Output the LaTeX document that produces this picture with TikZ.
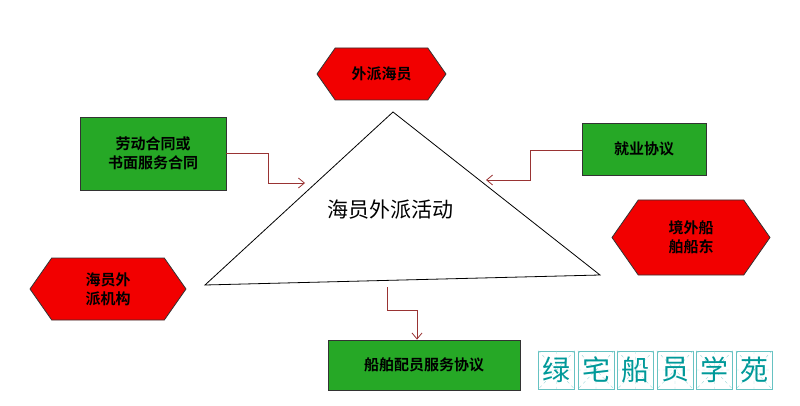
\documentclass[tikz,border=0pt]{standalone}
\usepackage{fontspec}
\setmainfont{Noto Sans CJK SC}[BoldFont={Noto Sans CJK SC Bold}]
\usepackage{tikz}
\usetikzlibrary{arrows.meta,shapes.symbols}
\tikzset{>={Straight Barb[length=6,width=10]}}
\colorlet{boxgreen}{green!60!black!85!white}
\colorlet{hexred}{red!95!black}
\colorlet{arrowred}{red!50!black!80!white}
\colorlet{inkteal}{teal!80!cyan}

\begin{document}
\begin{tikzpicture}[x=1pt,y=-1pt,
    greenbox/.style={draw=black!80,fill=boxgreen,thick,align=center,font=\fontsize{15}{19}\selectfont\bfseries,inner sep=0pt},
    hexbox/.style={draw=black!80,fill=hexred,thick,align=center,signal,signal to=east and west,signal pointer angle=110,font=\fontsize{15}{19}\selectfont\bfseries,inner sep=0pt},
    link/.style={arrowred,thick,->},
    stampbox/.style={draw=inkteal!60,minimum width=36,minimum height=38,inner sep=0pt}]
        \useasboundingbox (0,0) rectangle (800,406);

        % TRIANGLE
        \coordinate (A) at (393,112);
        \coordinate (L) at (205,285);
        \coordinate (R) at (600,275);
        \draw[thick] (A) -- (R) -- (L) -- cycle;
        \node[font=\fontsize{21}{21}\selectfont] (act) at (390,210) {海员外派活动};

        % BOXES
        \node[hexbox,minimum width=129,minimum height=52] (crew) at (381.5,74) {外派海员};
        \node[hexbox,minimum width=158,minimum height=75] (owner) at (691,237.5) {境外船\\舶船东};
        \node[hexbox,minimum width=156,minimum height=62] (agency) at (108,289) {海员外\\派机构};
        \node[greenbox,minimum width=146,minimum height=73] (labor) at (153,153.5) {劳动合同或\\书面服务合同};
        \node[greenbox,minimum width=124,minimum height=52] (job) at (644,149) {就业协议};
        \node[greenbox,minimum width=192,minimum height=50] (manning) at (424,365) {船舶配员服务协议};

        % ARROWS
        \coordinate (a1) at (305,183);
        \coordinate (a2) at (486,180);
        \coordinate (a3) at (387,287);
        \draw[link] (labor.east |- 0,153) -| (268,183) -- (a1);
        \draw[link] (job.west |- 0,150) -| (530,180) -- (a2);
        \draw[link] (a3) |- (417,310) -- (manning.north -| 417,0);

        % STAMP
        \foreach \ch [count=\i] in {绿,宅,船,员,学,苑}{
            \node[stampbox] (s\i) at (517+39.5*\i,370) {};
            \draw[inkteal!40,dashed,thin] (s\i.north west) -- (s\i.south east) (s\i.north east) -- (s\i.south west)
                (s\i.north) -- (s\i.south) (s\i.west) -- (s\i.east);
            \node[text=inkteal,font=\fontsize{28}{28}\selectfont] at (s\i) {\ch};
        }
\end{tikzpicture}
\end{document}
